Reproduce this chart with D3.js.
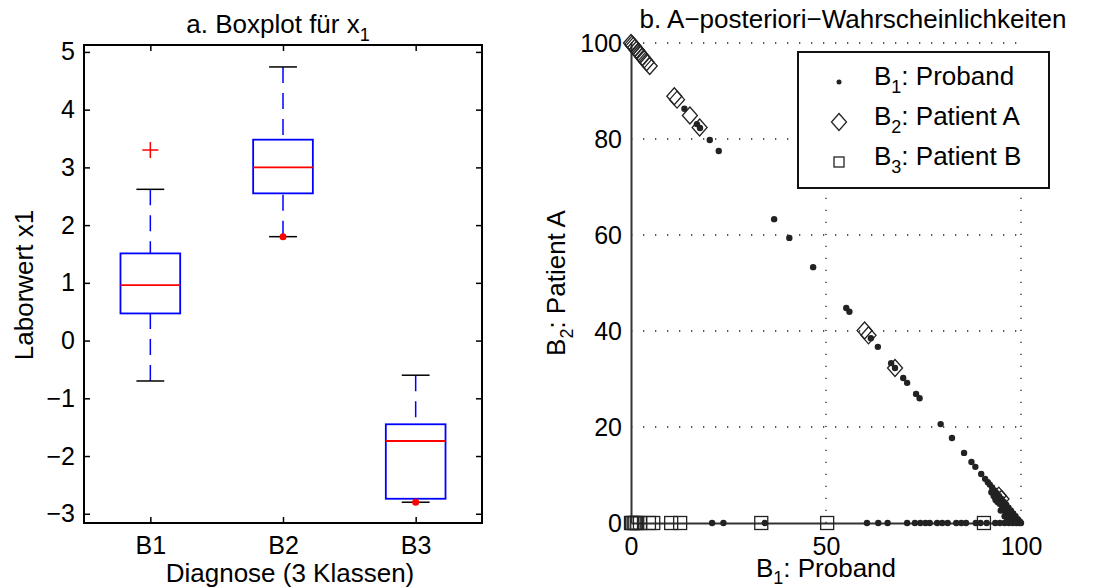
<!DOCTYPE html>
<html>
<head>
<meta charset="utf-8">
<script src="https://cdn.jsdelivr.net/npm/d3@7"></script>
<style>
  body { margin: 0; background: #fff; }
  svg { display: block; }
  text { font-family: "Liberation Sans", Arial, Helvetica, sans-serif; fill: #000; }
</style>
</head>
<body>
<svg id="main-svg"></svg>
<script>
// DATA: panel a (boxplot of x1 per diagnosis class)
const categories = ["B1", "B2", "B3"]
const whiskerLow = [-0.70, 1.80, -2.80]
const quartile1 = [0.47, 2.55, -2.74]
const medians = [0.96, 3.00, -1.74]
const quartile3 = [1.51, 3.48, -1.45]
const whiskerHigh = [2.62, 4.74, -0.60]
const outliers = [{ cat: "B1", value: 3.30 }]
const markedValues = [{ cat: "B2", value: 1.80 }, { cat: "B3", value: -2.80 }]
const boxYTicks = [-3, -2, -1, 0, 1, 2, 3, 4, 5]

// DATA: panel b (posterior probabilities in %, [P(B1), P(B2)])
const probandPoints = [
  [13.7, 86.3], [16.9, 83.1], [17.7, 82.3], [20.2, 79.8], [22.5, 77.5],
  [36.7, 63.3], [40.6, 59.4], [46.7, 53.3], [55.2, 44.8], [56.0, 44.0],
  [61.5, 38.5], [63.3, 36.7], [66.7, 33.3], [67.7, 32.3], [69.8, 30.2],
  [70.8, 29.2], [73.1, 26.9], [74.0, 26.0], [79.4, 20.6], [82.3, 17.7],
  [85.4, 14.6], [87.3, 12.7], [88.3, 11.7], [89.8, 10.2], [90.8, 9.2],
  [91.5, 8.5], [92.0, 8.0], [92.6, 7.4], [93.2, 6.8], [93.8, 6.2],
  [94.4, 5.6], [95.0, 5.0], [95.6, 4.4], [96.2, 3.8], [96.8, 3.2],
  [97.4, 2.6], [98.0, 2.0], [98.6, 1.4], [99.2, 0.8], [99.7, 0.3],
  [94.0, 4.4], [95.2, 3.2], [96.0, 2.4], [96.9, 1.6], [97.6, 1.0], [98.3, 0.5],
  [93.0, 5.6], [95.8, 1.4], [97.0, 0.6], [93.5, 4.8], [94.5, 4.0], [95.5, 3.0],
  [96.5, 2.2], [97.5, 1.4], [98.5, 0.7], [94.8, 2.6], [96.3, 1.2], [97.8, 0.4],
  [92.4, 6.4], [93.4, 5.2], [99.0, 0.3],
  [20.8, 0], [23.7, 0], [34.3, 0], [60.5, 0], [63.4, 0], [65.8, 0],
  [70.8, 0], [72.8, 0], [74.2, 0], [75.5, 0], [76.6, 0], [78.5, 0],
  [79.8, 0], [81.2, 0], [83.4, 0], [84.7, 0], [85.9, 0], [88.4, 0],
  [89.6, 0], [91.2, 0], [93.4, 0], [94.6, 0], [95.8, 0], [96.9, 0],
  [97.9, 0], [98.8, 0], [99.5, 0], [100, 0]
]
const patientAPoints = [
  [0, 100], [0.3, 99.7], [0.6, 99.4], [1.0, 99.0], [1.4, 98.6], [1.9, 98.1],
  [2.4, 97.6], [2.9, 97.1], [3.4, 96.6], [4.0, 96.0], [4.8, 95.2],
  [11.1, 88.9], [11.8, 88.2], [15.1, 84.9], [17.6, 82.4],
  [59.9, 40.1], [60.9, 39.1], [67.7, 32.3], [94.3, 5.7], [95.0, 5.0]
]
const patientBPoints = [
  [0, 0], [0.3, 0], [0.7, 0], [1.1, 0], [1.6, 0], [2.3, 0],
  [4.6, 0], [5.7, 0], [10.3, 0], [12.6, 0], [33.4, 0], [50.3, 0], [90.5, 0]
]
const probYTicks = [0, 20, 40, 60, 80, 100]
const probXTicks = [0, 50, 100]
const probGridY = [20, 40, 60, 80, 100]
const probGridX = [50, 100]

// FIXED SPACING VARIABLES
const CANVAS_WIDTH = 1093
const CANVAS_HEIGHT = 587
const BOX_LEFT = 84
const BOX_RIGHT = 482
const BOX_TOP = 45
const BOX_BOTTOM = 523
const BOX_HALF_WIDTH = 0.225
const CAP_HALF_WIDTH = 0.105
const PROB_LEFT = 631
const PROB_RIGHT = 1021
const PROB_TOP = 43
const PROB_BOTTOM = 523

// STYLE VARIABLES
const TICK_SIZE = 25
const LABEL_SIZE = 26
const TITLE_SIZE = 26
const SUB_SIZE = 18
const BOX_COLOR = "#0000ff"
const MEDIAN_COLOR = "#ff0000"
const MARK_COLOR = "#222"
const AXIS_GRAY = "#333"

const svg = d3.select("#main-svg")
  .attr("width", CANVAS_WIDTH)
  .attr("height", CANVAS_HEIGHT)

svg.append("rect")
  .attr("width", "100%")
  .attr("height", "100%")
  .attr("fill", "#fff")

// ---------- panel a: boxplot ----------
const xBox = d3.scaleLinear().domain([0.5, 3.5]).range([BOX_LEFT, BOX_RIGHT])
const yBox = d3.scaleLinear().domain([-3.16, 5.12]).range([BOX_BOTTOM, BOX_TOP])
const catPos = (c) => xBox(categories.indexOf(c) + 1)

const boxPanel = svg.append("g")

boxPanel.append("g")
  .attr("transform", `translate(${BOX_LEFT},0)`)
  .call(d3.axisLeft(yBox).tickValues(boxYTicks).tickSizeInner(-6).tickSizeOuter(0).tickPadding(9))
boxPanel.append("g")
  .attr("transform", `translate(${BOX_RIGHT},0)`)
  .call(d3.axisRight(yBox).tickValues(boxYTicks).tickSizeInner(-6).tickSizeOuter(0).tickFormat(""))
boxPanel.append("g")
  .attr("transform", `translate(0,${BOX_BOTTOM})`)
  .call(d3.axisBottom(xBox).tickValues([1, 2, 3]).tickSizeInner(-6).tickSizeOuter(0).tickPadding(13)
    .tickFormat((d) => categories[d - 1]))
boxPanel.append("g")
  .attr("transform", `translate(0,${BOX_TOP})`)
  .call(d3.axisTop(xBox).tickValues([1, 2, 3]).tickSizeInner(-6).tickSizeOuter(0).tickFormat(""))

boxPanel.selectAll(".domain").remove()
boxPanel.selectAll(".tick line").attr("stroke", "#000").attr("stroke-width", 1.5)
boxPanel.selectAll(".tick text").attr("font-size", TICK_SIZE).attr("fill", "#000")

boxPanel.append("rect")
  .attr("x", BOX_LEFT)
  .attr("y", BOX_TOP)
  .attr("width", BOX_RIGHT - BOX_LEFT)
  .attr("height", BOX_BOTTOM - BOX_TOP)
  .attr("fill", "none")
  .attr("stroke", "#000")
  .attr("stroke-width", 2)

const boxes = boxPanel.selectAll(".box")
  .data(categories)
  .join("g")
  .attr("class", "box")

// whiskers (dashed blue)
boxes.append("line")
  .attr("x1", (_, i) => xBox(i + 1)).attr("x2", (_, i) => xBox(i + 1))
  .attr("y1", (_, i) => yBox(whiskerHigh[i])).attr("y2", (_, i) => yBox(quartile3[i]))
  .attr("stroke", BOX_COLOR).attr("stroke-width", 1.5).attr("stroke-dasharray", "16,10")
boxes.append("line")
  .attr("x1", (_, i) => xBox(i + 1)).attr("x2", (_, i) => xBox(i + 1))
  .attr("y1", (_, i) => yBox(whiskerLow[i])).attr("y2", (_, i) => yBox(quartile1[i]))
  .attr("stroke", BOX_COLOR).attr("stroke-width", 1.5).attr("stroke-dasharray", "16,10")

// caps (black)
for (const arr of [whiskerHigh, whiskerLow]) {
  boxes.append("line")
    .attr("x1", (_, i) => xBox(i + 1 - CAP_HALF_WIDTH)).attr("x2", (_, i) => xBox(i + 1 + CAP_HALF_WIDTH))
    .attr("y1", (_, i) => yBox(arr[i])).attr("y2", (_, i) => yBox(arr[i]))
    .attr("stroke", "#000").attr("stroke-width", 1.5)
}

boxes.append("rect")
  .attr("x", (_, i) => xBox(i + 1 - BOX_HALF_WIDTH))
  .attr("y", (_, i) => yBox(quartile3[i]))
  .attr("width", xBox(1 + BOX_HALF_WIDTH) - xBox(1 - BOX_HALF_WIDTH))
  .attr("height", (_, i) => yBox(quartile1[i]) - yBox(quartile3[i]))
  .attr("fill", "none")
  .attr("stroke", BOX_COLOR)
  .attr("stroke-width", 1.8)

boxes.append("line")
  .attr("x1", (_, i) => xBox(i + 1 - BOX_HALF_WIDTH)).attr("x2", (_, i) => xBox(i + 1 + BOX_HALF_WIDTH))
  .attr("y1", (_, i) => yBox(medians[i])).attr("y2", (_, i) => yBox(medians[i]))
  .attr("stroke", MEDIAN_COLOR).attr("stroke-width", 1.8)

boxPanel.selectAll(".outlier")
  .data(outliers)
  .join("path")
  .attr("class", "outlier")
  .attr("transform", (d) => `translate(${catPos(d.cat)},${yBox(d.value)})`)
  .attr("d", "M-8,0H8M0,-8V8")
  .attr("stroke", MEDIAN_COLOR)
  .attr("stroke-width", 1.5)

boxPanel.selectAll(".mark")
  .data(markedValues)
  .join("circle")
  .attr("class", "mark")
  .attr("cx", (d) => catPos(d.cat))
  .attr("cy", (d) => yBox(d.value))
  .attr("r", 3.5)
  .attr("fill", MEDIAN_COLOR)

const titleA = boxPanel.append("text")
  .attr("x", 278).attr("y", 33)
  .attr("text-anchor", "middle")
  .attr("font-size", TITLE_SIZE)
titleA.append("tspan").text("a. Boxplot für x")
titleA.append("tspan").attr("dy", 8).attr("font-size", SUB_SIZE).text("1")

boxPanel.append("text")
  .attr("x", 290).attr("y", 582)
  .attr("text-anchor", "middle")
  .attr("font-size", LABEL_SIZE)
  .text("Diagnose (3 Klassen)")

boxPanel.append("text")
  .attr("transform", `translate(33,285) rotate(-90)`)
  .attr("text-anchor", "middle")
  .attr("font-size", LABEL_SIZE)
  .text("Laborwert x1")

// ---------- panel b: posterior probabilities ----------
const xProb = d3.scaleLinear().domain([0, 100]).range([PROB_LEFT, PROB_RIGHT])
const yProb = d3.scaleLinear().domain([0, 100]).range([PROB_BOTTOM, PROB_TOP])

const probPanel = svg.append("g")

// dotted grid
probPanel.selectAll(".grid-h")
  .data(probGridY)
  .join("line")
  .attr("x1", xProb(0)).attr("x2", xProb(100))
  .attr("y1", (d) => yProb(d)).attr("y2", (d) => yProb(d))
  .attr("stroke", "#222").attr("stroke-width", 1.3).attr("stroke-dasharray", "1.3,10.7")
probPanel.selectAll(".grid-v")
  .data(probGridX)
  .join("line")
  .attr("x1", (d) => xProb(d)).attr("x2", (d) => xProb(d))
  .attr("y1", yProb(0)).attr("y2", yProb(100))
  .attr("stroke", "#222").attr("stroke-width", 1.3).attr("stroke-dasharray", "1.3,10.7")

probPanel.append("g")
  .attr("transform", `translate(${PROB_LEFT},0)`)
  .call(d3.axisLeft(yProb).tickValues(probYTicks).tickSize(0).tickPadding(9))
probPanel.append("g")
  .attr("transform", `translate(0,${PROB_BOTTOM})`)
  .call(d3.axisBottom(xProb).tickValues(probXTicks).tickSize(0).tickPadding(14))
probPanel.selectAll(".domain").attr("stroke", AXIS_GRAY).attr("stroke-width", 2)
probPanel.selectAll(".tick text").attr("font-size", TICK_SIZE).attr("fill", "#000")

// markers
probPanel.selectAll(".pat-b")
  .data(patientBPoints)
  .join("rect")
  .attr("class", "pat-b")
  .attr("x", (d) => xProb(d[0]) - 6.5)
  .attr("y", (d) => yProb(d[1]) - 6.5)
  .attr("width", 13).attr("height", 13)
  .attr("fill", "none").attr("stroke", MARK_COLOR).attr("stroke-width", 1.3)

probPanel.selectAll(".pat-a")
  .data(patientAPoints)
  .join("path")
  .attr("class", "pat-a")
  .attr("transform", (d) => `translate(${xProb(d[0])},${yProb(d[1])})`)
  .attr("d", "M0,-8.5L7.5,0L0,8.5L-7.5,0Z")
  .attr("fill", "none").attr("stroke", MARK_COLOR).attr("stroke-width", 1.3)

probPanel.selectAll(".proband")
  .data(probandPoints)
  .join("circle")
  .attr("class", "proband")
  .attr("cx", (d) => xProb(d[0]))
  .attr("cy", (d) => yProb(d[1]))
  .attr("r", 3.2)
  .attr("fill", MARK_COLOR)

// legend
const legend = probPanel.append("g").attr("transform", "translate(798,52)")
legend.append("rect")
  .attr("width", 251).attr("height", 136)
  .attr("fill", "#fff").attr("stroke", "#111").attr("stroke-width", 2)
const legendItems = [
  { sub: "1", label: ": Proband" },
  { sub: "2", label: ": Patient A" },
  { sub: "3", label: ": Patient B" }
]
legendItems.forEach((item, i) => {
  const cy = 30 + i * 40
  if (i === 0) legend.append("circle").attr("cx", 41).attr("cy", cy).attr("r", 2.5).attr("fill", MARK_COLOR)
  if (i === 1) legend.append("path").attr("transform", `translate(41,${cy})`).attr("d", "M0,-8.5L7.5,0L0,8.5L-7.5,0Z")
    .attr("fill", "none").attr("stroke", MARK_COLOR).attr("stroke-width", 1.3)
  if (i === 2) legend.append("rect").attr("x", 36).attr("y", cy - 5).attr("width", 10).attr("height", 10)
    .attr("fill", "none").attr("stroke", MARK_COLOR).attr("stroke-width", 1.3)
  const t = legend.append("text").attr("x", 76).attr("y", cy + 3).attr("font-size", LABEL_SIZE)
  t.append("tspan").text("B")
  t.append("tspan").attr("dy", 8).attr("font-size", SUB_SIZE).text(item.sub)
  t.append("tspan").attr("dy", -8).text(item.label)
})

probPanel.append("text")
  .attr("x", 853).attr("y", 28)
  .attr("text-anchor", "middle")
  .attr("font-size", TITLE_SIZE)
  .text("b. A\u2212posteriori\u2212Wahrscheinlichkeiten")

const xLabelB = probPanel.append("text")
  .attr("x", 826).attr("y", 577)
  .attr("text-anchor", "middle")
  .attr("font-size", LABEL_SIZE)
xLabelB.append("tspan").text("B")
xLabelB.append("tspan").attr("dy", 7).attr("font-size", SUB_SIZE).text("1")
xLabelB.append("tspan").attr("dy", -7).text(": Proband")

const yLabelB = probPanel.append("text")
  .attr("transform", `translate(565,283) rotate(-90)`)
  .attr("text-anchor", "middle")
  .attr("font-size", LABEL_SIZE)
yLabelB.append("tspan").text("B")
yLabelB.append("tspan").attr("dy", 8).attr("font-size", SUB_SIZE).text("2")
yLabelB.append("tspan").attr("dy", -8).text(": Patient A")
</script>
</body>
</html>
